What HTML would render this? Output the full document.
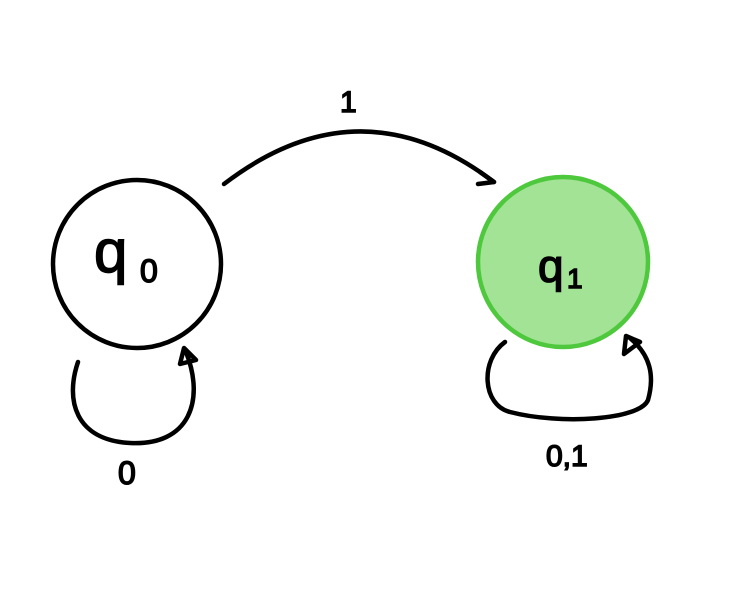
<!DOCTYPE html>
<html><head><style>
html,body{margin:0;padding:0;background:#fff;}
svg{display:block;}
text{font-family:"Liberation Sans",sans-serif;fill:#000;stroke:#000;stroke-width:1.5;}
</style></head><body>
<svg width="740" height="600" viewBox="0 0 740 600" xmlns="http://www.w3.org/2000/svg">
<rect width="740" height="600" fill="#fff"/>
<g fill="none" stroke="#000" stroke-width="4.5" stroke-linecap="round" stroke-linejoin="round">
<circle cx="137" cy="264" r="84"/>
<path d="M224 184 Q360 80 494 182"/>
<path d="M480 172 L494 182 L478 184"/>
<path d="M78 362 C65 400 75 440 130 443 C190 446 205 400 186 352"/>
<path d="M180 364 L184 348 L196 360 Z"/>
<path d="M505 342 C480 360 482 405 510 412 C560 425 640 420 648 400 C655 375 650 355 630 338"/>
<path d="M624 354 L626 336 L640 342 Z"/>
</g>
<circle cx="563" cy="262" r="85" fill="#a3e396" stroke="#4ec83c" stroke-width="4.5"/>
<text x="94" y="272" font-size="60">q</text>
<text x="140" y="282" font-size="32">0</text>
<text x="538" y="282" font-size="46">q</text>
<text x="567" y="288" font-size="28">1</text>
<text x="340" y="112" font-size="30">1</text>
<text x="118" y="484" font-size="32">0</text>
<text x="546" y="466" font-size="30">0,1</text>
</svg>
</body></html>
